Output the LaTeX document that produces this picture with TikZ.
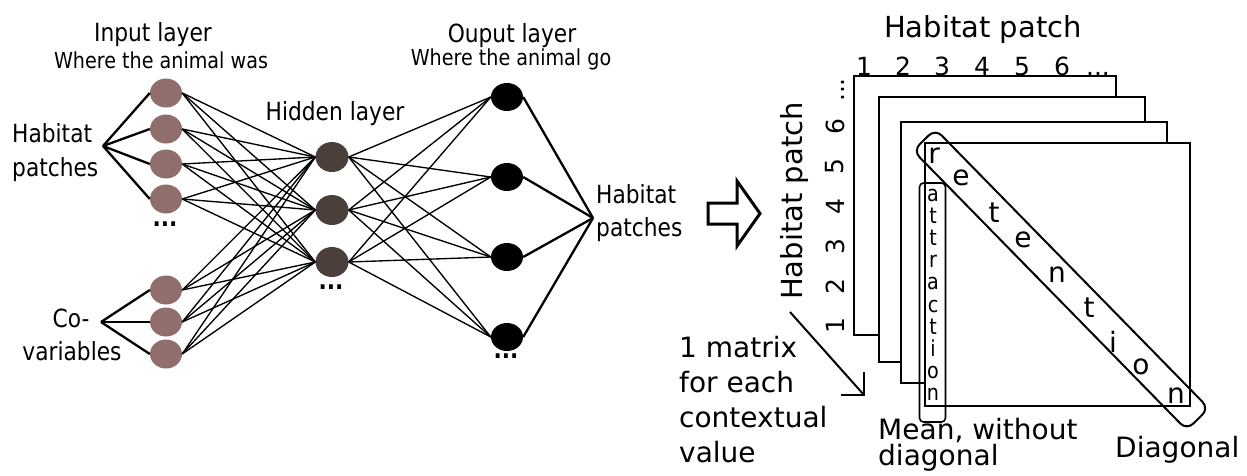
\documentclass[tikz,border=0pt]{standalone}
\usepackage{fontspec}
\setmainfont{DejaVu Sans}
\newfontfamily\condf[FakeStretch=0.87]{DejaVu Sans}
\usetikzlibrary{shapes.geometric}
\definecolor{inputcol}{RGB}{143,110,108}
\definecolor{hiddencol}{RGB}{74,63,58}
\begin{document}
\begin{tikzpicture}[x=1pt,y=-1pt,
  innode/.style={ellipse, fill=inputcol, minimum width=32pt, minimum height=29pt, inner sep=0pt},
  hidnode/.style={ellipse, fill=hiddencol, minimum width=33pt, minimum height=30pt, inner sep=0pt},
  outnode/.style={ellipse, fill=black, minimum width=32pt, minimum height=28pt, inner sep=0pt},
  wire/.style={line width=1.35pt},
  fan/.style={line width=2.3pt},
  biglbl/.style={font=\condf\fontsize{25pt}{30pt}\selectfont, inner sep=0pt},
  sublbl/.style={font=\condf\fontsize{22pt}{26pt}\selectfont, inner sep=0pt},
  dotlbl/.style={font=\condf\bfseries\fontsize{25pt}{30pt}\selectfont, inner sep=0pt},
  rlbl/.style={font=\fontsize{28pt}{34pt}\selectfont, inner sep=0pt},
  titlelbl/.style={font=\fontsize{29pt}{34pt}\selectfont, inner sep=0pt},
  numlbl/.style={font=\fontsize{25pt}{30pt}\selectfont, inner sep=0pt},
  letlbl/.style={font=\fontsize{28pt}{34pt}\selectfont, inner sep=0pt},
  smlet/.style={font=\condf\fontsize{22pt}{26pt}\selectfont, inner sep=0pt},
  frame/.style={draw, line width=2pt, fill=white},
]
\useasboundingbox (0,0) rectangle (1247,475);

% ---------- neural network ----------
\foreach \n/\y in {i1/93,i2/129,i3/164,i4/199,c1/290,c2/322,c3/354}
  \node[innode] (\n) at (166,\y) {};
\foreach \n/\y in {h1/157,h2/210,h3/262}
  \node[hidnode] (\n) at (332,\y) {};
\foreach \n/\y in {o1/97,o2/177,o3/257,o4/337}
  \node[outnode] (\n) at (507,\y) {};

\foreach \a in {i1,i2,i3,i4,c1,c2,c3}
  \foreach \b in {h1,h2,h3}
    \draw[wire] (\a.east) -- (\b.west);
\foreach \a in {h1,h2,h3}
  \foreach \b in {o1,o2,o3,o4}
    \draw[wire] (\a.east) -- (\b.west);

\coordinate (hpfan) at (103,146);
\coordinate (cvfan) at (101,322);
\coordinate (outfan) at (593,218);
\foreach \a in {i1,i2,i3,i4} \draw[fan] (hpfan) -- (\a.west);
\foreach \a in {c1,c2,c3} \draw[fan] (cvfan) -- (\a.west);
\foreach \a in {o1,o2,o3,o4} \draw[fan] (\a.east) -- (outfan);

\node[dotlbl, anchor=base] (indots) at (165,226) {...};
\node[dotlbl, anchor=base] (hiddots) at (331,289) {...};
\node[dotlbl, anchor=base] (outdots) at (506,358) {...};

\node[biglbl, anchor=base] (inlayer) at (153,41) {Input layer};
\node[sublbl, anchor=base] (inwhere) at (161,68) {Where the animal was};
\node[biglbl, anchor=base] (hidlayer) at (335,120) {Hidden layer};
\node[biglbl, anchor=base] (outlayer) at (512,42) {Ouput layer};
\node[sublbl, anchor=base] (outwhere) at (511,65) {Where the animal go};

\node[biglbl, anchor=base west] (hpa) at (12,142) {Habitat};
\node[biglbl, anchor=base west] (hpb) at (12,176) {patches};
\node[biglbl, anchor=base] (cva) at (71,327) {Co-};
\node[biglbl, anchor=base] (cvb) at (72,360) {variables};
\node[biglbl, anchor=base west] (opa) at (596,203) {Habitat};
\node[biglbl, anchor=base west] (opb) at (596,236) {patches};

% ---------- hollow arrow ----------
\draw[line width=3pt, fill=white, line join=miter]
  (708,203) -- (737,203) -- (737,181) -- (760,213.5) -- (737,246)
  -- (737,224) -- (708,224) -- cycle;

% ---------- stack of matrices ----------
\draw[frame] (854,76) rectangle (1116,335);
\draw[frame] (879,97) rectangle (1145,362);
\draw[frame] (901,122) rectangle (1167,383);
\draw[frame] (925,143) rectangle (1190,406);

\node[titlelbl, anchor=base] (coltitle) at (983,37) {Habitat patch};
\foreach \d/\x in {1/864,2/903,3/942,4/982,5/1022,6/1062}
  \node[numlbl, anchor=base] (col\d) at (\x,75) {\d};
\node[numlbl, anchor=base] (coldots) at (1098,75) {...};

\node[titlelbl, rotate=90, anchor=base] (rowtitle) at (802,201) {Habitat patch};
\foreach \d/\y in {1/326,2/287,3/247,4/207,5/167,6/127}
  \node[numlbl, rotate=90] (row\d) at (835,\y) {\d};
\node[numlbl, rotate=90, anchor=base] (rowdots) at (844,90) {...};

% diagonal band
\node[draw, line width=2pt, rounded corners=9pt, minimum width=391pt,
      minimum height=31pt, inner sep=0pt, rotate=-45.6] (retband) at (1061,279.5) {};
\foreach \l/\x/\y in {r/934/163, e/961/185, t/994/222, e/1023/247, n/1057/282,
                      t/1089/317, i/1113/352, o/1141/374, n/1176/403}
  \node[letlbl, anchor=base] at (\x,\y) {\l};

% column band
\node[draw, line width=1.6pt, rounded corners=4pt, minimum width=26pt,
      minimum height=239pt, inner sep=0pt] (attband) at (932.5,302.5) {};
\foreach \l [count=\k from 0] in {a,t,t,r,a,c,t,i,o,n}
  \node[smlet, anchor=base] at (933,201+22.2*\k) {\l};

% depth arrow
\coordinate (depthA) at (790,312);
\coordinate (depthB) at (864,395);
\coordinate (barbH) at (841,395);
\coordinate (barbV) at (864,372);
\draw[line width=2pt] (depthA) -- (depthB);
\draw[line width=2pt, line join=miter] (barbH) -- (depthB) -- (barbV);

\node[rlbl, anchor=base west] (m1) at (679,357) {1 matrix};
\node[rlbl, anchor=base west] (m2) at (679,392) {for each};
\node[rlbl, anchor=base west] (m3) at (679,427) {contextual};
\node[rlbl, anchor=base west] (m4) at (679,462) {value};

\node[font=\fontsize{28pt}{22pt}\selectfont, inner sep=0pt, align=left,
      anchor=base west] (mean) at (878,465) {Mean, without\\diagonal};
\node[rlbl, anchor=base west] (diag) at (1115,457) {Diagonal};
\end{tikzpicture}
\end{document}
